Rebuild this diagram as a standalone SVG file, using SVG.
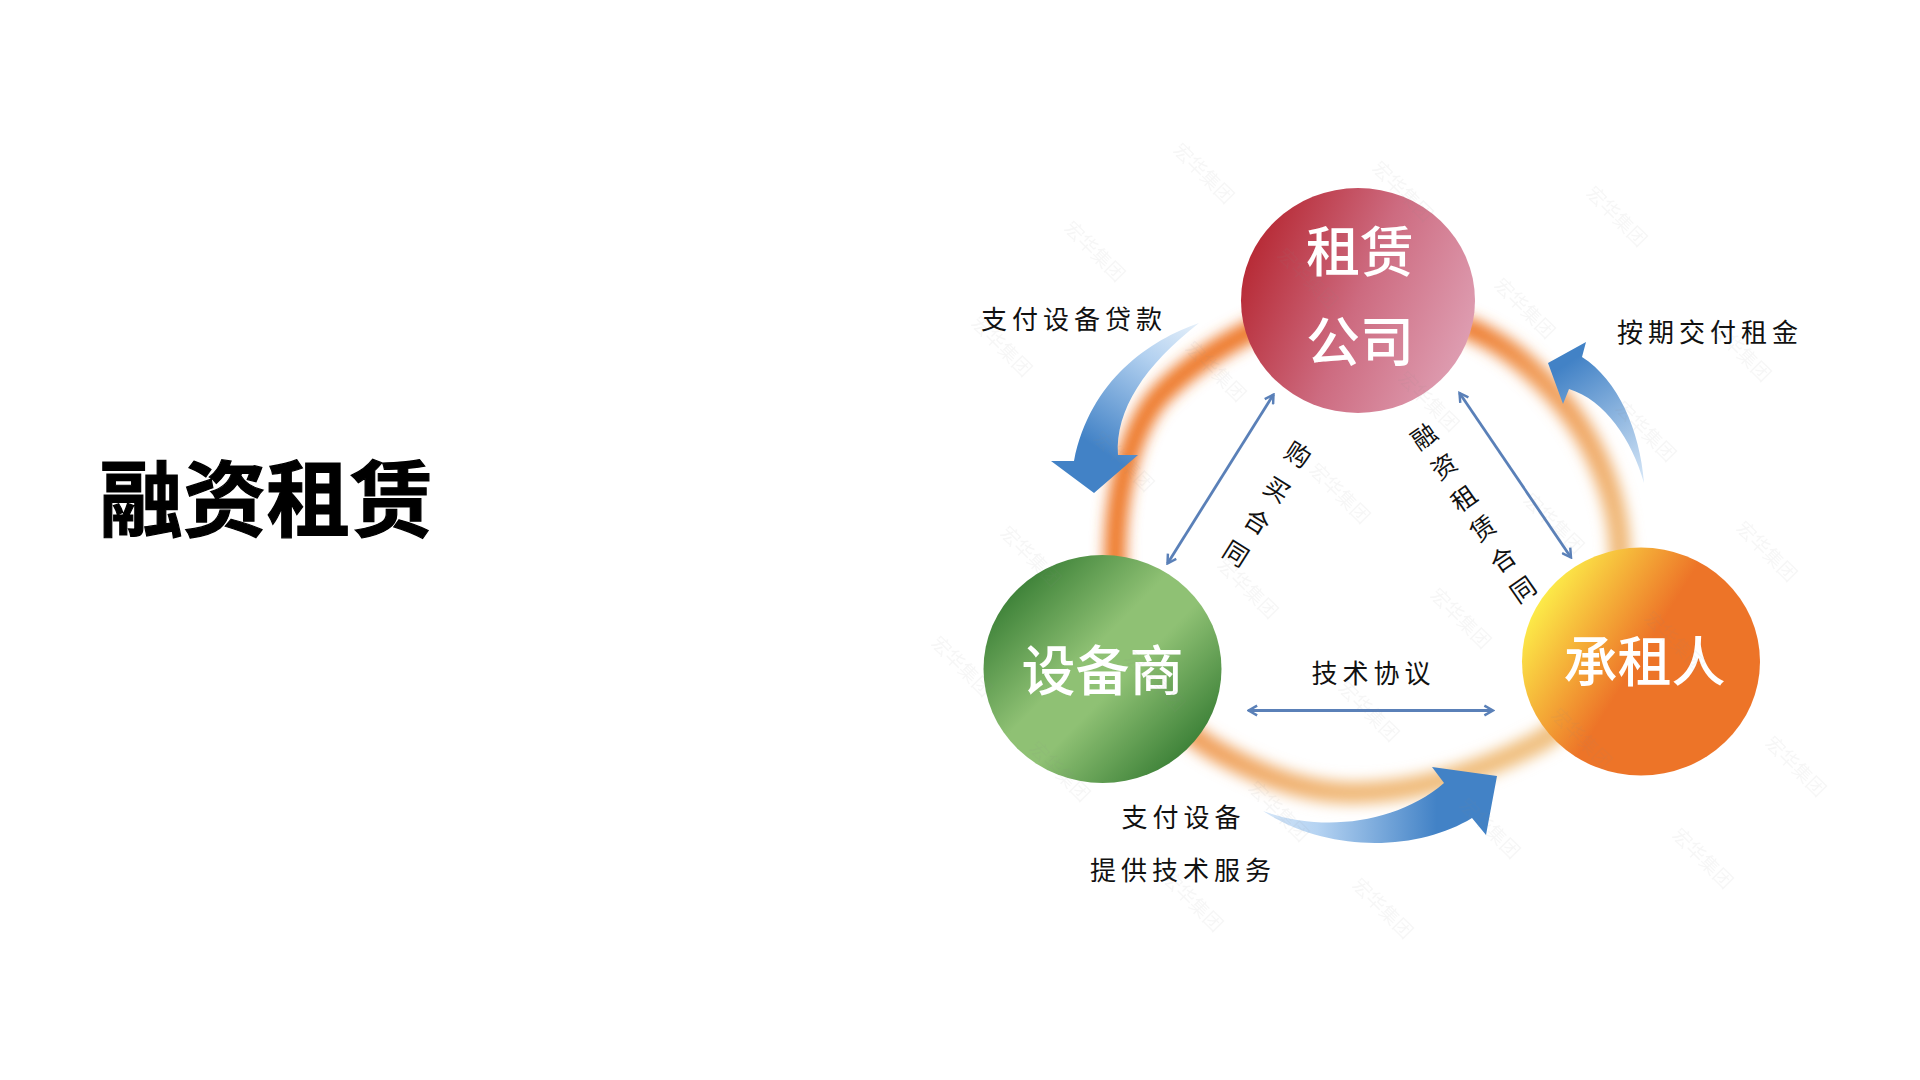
<svg xmlns="http://www.w3.org/2000/svg" width="1920" height="1080" viewBox="0 0 1920 1080">
<defs>
<style>
.lbl{font-family:"Noto Sans CJK SC","Liberation Sans",sans-serif;font-size:26px;font-weight:400;fill:#111;text-anchor:middle;dominant-baseline:central;letter-spacing:5px}
.v{letter-spacing:0;font-size:25px}
.nd{font-family:"Noto Sans CJK SC","Liberation Sans",sans-serif;font-size:54px;fill:#fff;text-anchor:middle;dominant-baseline:central;font-weight:500}
.wm{font-family:"Noto Sans CJK SC","Liberation Sans",sans-serif;font-size:19px;fill:#888;opacity:.07;text-anchor:middle;dominant-baseline:central}
.dbl{stroke:#5a80b8;fill:none;stroke-width:2.8;marker-start:url(#h1);marker-end:url(#h2)}
</style>
<marker id="h2" viewBox="0 0 10 10" refX="8.5" refY="5" markerWidth="4.4" markerHeight="4.4" orient="auto"><path d="M1.5 1L8.5 5L1.5 9" fill="none" stroke="#5a80b8" stroke-width="2"/></marker>
<marker id="h1" viewBox="0 0 10 10" refX="1.5" refY="5" markerWidth="4.4" markerHeight="4.4" orient="auto"><path d="M8.5 1L1.5 5L8.5 9" fill="none" stroke="#5a80b8" stroke-width="2"/></marker>
<filter id="soft" filterUnits="userSpaceOnUse" x="1050" y="250" width="640" height="600"><feGaussianBlur stdDeviation="7"/></filter>
<linearGradient id="ringC" gradientUnits="userSpaceOnUse" x1="1130" y1="400" x2="1500" y2="780">
<stop offset="0" stop-color="#ee7a2c"/><stop offset=".35" stop-color="#ee7d31"/><stop offset=".5" stop-color="#f09a55"/><stop offset=".8" stop-color="#f0b878"/><stop offset="1" stop-color="#f0c080"/>
</linearGradient>
<linearGradient id="gr" x1="0" y1=".3" x2="1" y2=".7"><stop offset=".03" stop-color="#b72b36"/><stop offset=".5" stop-color="#cd6b80"/><stop offset="1" stop-color="#dfa0b4"/></linearGradient>
<linearGradient id="gg" x1=".1" y1=".12" x2=".9" y2=".88"><stop offset="0" stop-color="#367c33"/><stop offset=".42" stop-color="#8fc174"/><stop offset=".58" stop-color="#8fc174"/><stop offset="1" stop-color="#357b32"/></linearGradient>
<linearGradient id="go" x1=".02" y1=".22" x2=".95" y2=".78"><stop offset=".03" stop-color="#fdf04a"/><stop offset=".5" stop-color="#ed7428"/><stop offset="1" stop-color="#ed7428"/></linearGradient>
<linearGradient id="b1" gradientUnits="userSpaceOnUse" x1="1199" y1="323" x2="1094" y2="480"><stop offset="0" stop-color="#e6f0fa"/><stop offset=".3" stop-color="#b3d1f0"/><stop offset=".85" stop-color="#4282c6"/></linearGradient>
<linearGradient id="b2" gradientUnits="userSpaceOnUse" x1="1644" y1="483" x2="1565" y2="365"><stop offset="0" stop-color="#d8e8f8"/><stop offset="1" stop-color="#4282c6"/></linearGradient>
<linearGradient id="b3" gradientUnits="userSpaceOnUse" x1="1263" y1="811" x2="1480" y2="811"><stop offset="0" stop-color="#d5e6f8"/><stop offset=".25" stop-color="#b5d3f2"/><stop offset=".8" stop-color="#4282c6"/></linearGradient>
</defs>
<rect width="1920" height="1080" fill="#fff"/>
<text id="title" x="266.5" y="493" font-family="'Noto Sans CJK SC',sans-serif" font-size="83.5" font-weight="700" fill="#000" stroke="#000" stroke-width="1.2" text-anchor="middle" dominant-baseline="central">融资租赁</text>
<g id="ringShape">
<path filter="url(#soft)" fill="none" stroke="url(#ringC)" stroke-width="22" d="M1300 312C1260 322 1200 355 1163 392C1135 420 1115 480 1115 560C1115 640 1150 715 1220 753C1265 778 1310 793 1353 793C1400 793 1460 782 1537 743C1600 710 1622 620 1620 550C1618 490 1590 430 1547 385C1525 362 1500 340 1460 325"/>
</g>
<g id="connectors">
<path id="a1" fill="url(#b1)" d="M1199 323C1150 340 1090 380 1074 461L1051 461L1094 493L1138 455L1118 455C1115 410 1145 365 1199 323Z"/>
<path id="a2" fill="url(#b2)" d="M1644 483C1640 430 1618 380 1582 357L1586 342L1548 363L1563 404L1569 389C1605 400 1632 440 1644 483Z"/>
<path id="a3" fill="url(#b3)" d="M1263 811C1320 832 1395 825 1444 783L1432 767L1497 776L1486 835L1472 818C1420 850 1330 855 1263 811Z"/>
<path class="dbl" d="M1273.5 394.5L1167.5 563.5"/>
<path class="dbl" d="M1459.5 393L1571 557.5"/>
<path class="dbl" d="M1248.5 710.5H1493"/>
</g>
<g id="lessor"><ellipse cx="1358" cy="300.5" rx="117" ry="112.5" fill="url(#gr)"/><text class="nd" x="1360" y="248">租赁</text><text class="nd" x="1360" y="338">公司</text></g>
<g id="supplier"><ellipse cx="1102.5" cy="669" rx="119" ry="114" fill="url(#gg)"/><text class="nd" x="1102.5" y="667">设备商</text></g>
<g id="lessee"><ellipse cx="1641" cy="661.5" rx="119" ry="114" fill="url(#go)"/><text class="nd" x="1644.5" y="658">承租人</text></g>
<g id="labels">
<text class="lbl" x="1074" y="317.5">支付设备贷款</text>
<text class="lbl" x="1710" y="330.5">按期交付租金</text>
<text class="lbl" x="1373.5" y="671">技术协议</text>
<text class="lbl" x="1183.5" y="815">支付设备</text>
<text class="lbl" x="1183" y="868">提供技术服务</text>
<text class="lbl v" transform="translate(1299 453) rotate(32)">购</text>
<text class="lbl v" transform="translate(1278 488) rotate(32)">买</text>
<text class="lbl v" transform="translate(1258 520) rotate(32)">合</text>
<text class="lbl v" transform="translate(1237 552) rotate(32)">同</text>
<text class="lbl v" transform="translate(1423 435) rotate(-35)">融</text>
<text class="lbl v" transform="translate(1443 465) rotate(-35)">资</text>
<text class="lbl v" transform="translate(1463 497) rotate(-35)">租</text>
<text class="lbl v" transform="translate(1482 527) rotate(-35)">赁</text>
<text class="lbl v" transform="translate(1502 558) rotate(-35)">合</text>
<text class="lbl v" transform="translate(1522 588) rotate(-35)">同</text>
</g>
<g id="watermark">
<text class="wm" transform="translate(1096 250) rotate(45)">宏华集团</text>
<text class="wm" transform="translate(1309 277) rotate(45)">宏华集团</text>
<text class="wm" transform="translate(1404 190) rotate(45)">宏华集团</text>
<text class="wm" transform="translate(1618 215) rotate(45)">宏华集团</text>
<text class="wm" transform="translate(1526 307) rotate(45)">宏华集团</text>
<text class="wm" transform="translate(1205 172) rotate(45)">宏华集团</text>
<text class="wm" transform="translate(1003 345) rotate(45)">宏华集团</text>
<text class="wm" transform="translate(1217 370) rotate(45)">宏华集团</text>
<text class="wm" transform="translate(1430 400) rotate(45)">宏华集团</text>
<text class="wm" transform="translate(1647 430) rotate(45)">宏华集团</text>
<text class="wm" transform="translate(1742 350) rotate(45)">宏华集团</text>
<text class="wm" transform="translate(1125 460) rotate(45)">宏华集团</text>
<text class="wm" transform="translate(1341 492) rotate(45)">宏华集团</text>
<text class="wm" transform="translate(1555 522) rotate(45)">宏华集团</text>
<text class="wm" transform="translate(1032 555) rotate(45)">宏华集团</text>
<text class="wm" transform="translate(1249 587) rotate(45)">宏华集团</text>
<text class="wm" transform="translate(1462 617) rotate(45)">宏华集团</text>
<text class="wm" transform="translate(1768 550) rotate(45)">宏华集团</text>
<text class="wm" transform="translate(1676 640) rotate(45)">宏华集团</text>
<text class="wm" transform="translate(1583 737) rotate(45)">宏华集团</text>
<text class="wm" transform="translate(1370 710) rotate(45)">宏华集团</text>
<text class="wm" transform="translate(1156 680) rotate(45)">宏华集团</text>
<text class="wm" transform="translate(1061 770) rotate(45)">宏华集团</text>
<text class="wm" transform="translate(1280 810) rotate(45)">宏华集团</text>
<text class="wm" transform="translate(1491 827) rotate(45)">宏华集团</text>
<text class="wm" transform="translate(1797 765) rotate(45)">宏华集团</text>
<text class="wm" transform="translate(1704 857) rotate(45)">宏华集团</text>
<text class="wm" transform="translate(1194 900) rotate(45)">宏华集团</text>
<text class="wm" transform="translate(1384 907) rotate(45)">宏华集团</text>
<text class="wm" transform="translate(963 665) rotate(45)">宏华集团</text>
</g>
</svg>
